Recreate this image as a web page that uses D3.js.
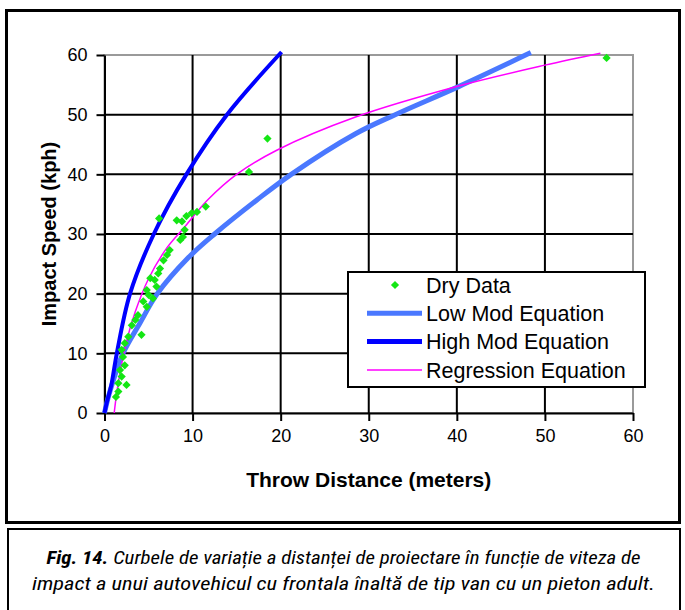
<!DOCTYPE html>
<html>
<head>
<meta charset="utf-8">
<script src="https://cdn.jsdelivr.net/npm/d3@7"></script>
<style>
  body { margin: 0; background: #fff; }
  svg { display: block; }
  text { font-family: "Liberation Sans", Arial, sans-serif; fill: #000; }
</style>
</head>
<body>
<div id="chart"></div>
<script>
// tick labels
var xTicks = [0, 10, 20, 30, 40, 50, 60];
var yTicks = [0, 10, 20, 30, 40, 50, 60];

// Dry Data (throw distance m, impact speed kph)
var dryX = [6.2, 8.2, 8.8, 9.3, 9.9, 10.5, 11.5, 9.1, 8.9, 8.6, 7.4, 7.1, 6.7, 6.3, 6.1, 5.2, 5.7, 5.9, 4.8, 5.0,
            5.5, 4.4, 4.8, 3.8, 3.5, 3.1, 4.2, 2.7, 2.3, 1.95, 2.1, 2.3, 1.76, 1.95, 2.5, 1.57, 1.57, 1.3, 16.4, 18.5, 57];
var dryY = [32.6, 32.3, 32.1, 33.0, 33.5, 33.7, 34.6, 30.7, 29.5, 29.0, 27.3, 26.5, 25.6, 24.2, 23.4, 22.6, 22.3, 21.2, 20.6, 19.8,
            19.2, 18.7, 17.8, 16.4, 15.6, 14.7, 13.1, 12.8, 11.7, 10.6, 9.4, 8.0, 7.2, 6.1, 4.7, 5.0, 3.6, 2.7, 40.4, 46.0, 59.5];

// equation curves, points
var lowModX = [0, 0.4, 0.9, 2.1, 4.0, 6.0, 9.5, 12.5, 17.3, 21.2, 28.5, 33.0, 40.2, 48.4];
var lowModY = [0, 2.5, 5, 10, 15, 20, 26, 30, 35.7, 40, 46.8, 50, 54.7, 60.4];
var highModX = [0, 0.3, 0.75, 1.4, 2.9, 5.6, 9.3, 13.9, 20.1];
var highModY = [0, 2, 4.5, 10, 20, 30, 40, 50, 60.5];
var regX = [1.1, 1.4, 1.8, 2.5, 3.5, 5.0, 7.0, 9.0, 11.7, 15.0, 19.5, 28.5, 40.2, 50.0, 56.3];
var regY = [0, 3.5, 7, 12, 17, 22.5, 27.5, 31, 35.7, 40, 44, 49.6, 54.8, 58.3, 60.3];

var legendNames = ["Dry Data", "Low Mod Equation", "High Mod Equation", "Regression Equation"];
var xTitle = "Throw Distance (meters)";
var yTitle = "Impact Speed (kph)";
var captionBold = "Fig. 14.";
var captionRest1 = " Curbele de variație a distanței de proiectare în funcție de viteza de";
var captionLine2 = "impact a unui autovehicul cu frontala înaltă de tip van cu un pieton adult.";

var W = 685, H = 610;
var plot = {left: 104.5, right: 633, top: 55, bottom: 413};

var svg = d3.select("#chart").append("svg").attr("width", W).attr("height", H);

// outer frame and caption frame
svg.append("rect").attr("x", 6.5).attr("y", 10.5).attr("width", 673).attr("height", 512)
  .style("fill", "#fff").style("stroke", "#000").style("stroke-width", 3);
svg.append("rect").attr("x", 8).attr("y", 529).attr("width", 672).attr("height", 90)
  .style("fill", "#fff").style("stroke", "#000").style("stroke-width", 2);

var x = d3.scaleLinear().domain([0, 60]).range([plot.left, plot.right]);
var y = d3.scaleLinear().domain([0, 60]).range([plot.bottom, plot.top]);

// plot area border (grey) and black gridlines
svg.append("rect").attr("x", plot.left).attr("y", plot.top)
  .attr("width", plot.right - plot.left).attr("height", plot.bottom - plot.top)
  .style("fill", "#fff").style("stroke", "#9a9a9a").style("stroke-width", 2);

var grid = svg.append("g");
grid.selectAll("line.v").data(xTicks.slice(1, -1)).enter().append("line")
  .attr("x1", d => x(d)).attr("x2", d => x(d)).attr("y1", plot.top).attr("y2", plot.bottom)
  .style("stroke", "#000").style("stroke-width", 2);
grid.selectAll("line.h").data(yTicks.slice(1, -1)).enter().append("line")
  .attr("y1", d => y(d)).attr("y2", d => y(d)).attr("x1", plot.left).attr("x2", plot.right)
  .style("stroke", "#000").style("stroke-width", 2);

// axes
var xAxis = d3.axisBottom(x).tickValues(xTicks).tickSize(8).tickSizeOuter(0).tickPadding(8);
var yAxis = d3.axisLeft(y).tickValues(yTicks).tickSize(8).tickSizeOuter(0).tickPadding(9);
var gx = svg.append("g").attr("transform", "translate(0," + plot.bottom + ")").call(xAxis);
var gy = svg.append("g").attr("transform", "translate(" + plot.left + ",0)").call(yAxis);
[gx, gy].forEach(function (g) {
  g.select(".domain").style("stroke", "#000").style("stroke-width", 2);
  g.selectAll(".tick line").style("stroke", "#000").style("stroke-width", 2);
  g.selectAll(".tick text").style("font-size", "18px").style("font-family", "Liberation Sans, Arial, sans-serif");
});

// equation lines
function series(xs, ys) { return xs.map(function (d, i) { return [d, ys[i]]; }); }
var line = d3.line().x(d => x(d[0])).y(d => y(d[1])).curve(d3.curveCatmullRom.alpha(0.5));

svg.append("path").datum(series(lowModX, lowModY)).attr("d", line)
  .style("fill", "none").style("stroke", "#4a78ff").style("stroke-width", 5);
svg.append("path").datum(series(highModX, highModY)).attr("d", line)
  .style("fill", "none").style("stroke", "#0000ff").style("stroke-width", 4);
svg.append("path").datum(series(regX, regY)).attr("d", line)
  .style("fill", "none").style("stroke", "#ff00ff").style("stroke-width", 1.5);

// dry data points: square turned 45 degrees (Excel diamond)
var diamond = d3.symbol().type(d3.symbolSquare).size(34);
svg.append("g").selectAll("path").data(series(dryX, dryY)).enter().append("path")
  .attr("transform", d => "translate(" + x(d[0]) + "," + y(d[1]) + ") rotate(45)")
  .attr("d", diamond).style("fill", "#14e614");

// legend
var lg = svg.append("g");
lg.append("rect").attr("x", 348).attr("y", 272).attr("width", 297).attr("height", 115)
  .style("fill", "#fff").style("stroke", "#000").style("stroke-width", 2);
var rowY = function (i) { return 285 + i * 28.3; };
lg.append("path").attr("transform", "translate(395," + rowY(0) + ") rotate(45)").attr("d", diamond).style("fill", "#14e614");
var legendLines = [{c: "#4a78ff", w: 5}, {c: "#0000ff", w: 5}, {c: "#ff00ff", w: 1.5}];
legendLines.forEach(function (s, i) {
  lg.append("line").attr("x1", 367).attr("x2", 422).attr("y1", rowY(i + 1)).attr("y2", rowY(i + 1))
    .style("stroke", s.c).style("stroke-width", s.w);
});
lg.selectAll("text").data(legendNames).enter().append("text")
  .attr("x", 426).attr("y", (d, i) => rowY(i)).attr("dy", "0.36em")
  .style("font-size", "21.5px").text(d => d);

// axis titles
svg.append("text").attr("x", (plot.left + plot.right) / 2).attr("y", 487)
  .attr("text-anchor", "middle").style("font-size", "21px").style("font-weight", "bold").text(xTitle);
svg.append("text").attr("transform", "translate(56," + (plot.top + plot.bottom) / 2 + ") rotate(-90)")
  .attr("text-anchor", "middle").style("font-size", "20px").style("font-weight", "bold").text(yTitle);

// caption
var capFont = "'Liberation Sans Narrow', 'Roboto Condensed', 'DejaVu Sans Condensed', 'Liberation Sans', sans-serif";
var c1 = svg.append("text").attr("x", 343.5).attr("y", 564).attr("text-anchor", "middle")
  .attr("textLength", 594).attr("lengthAdjust", "spacingAndGlyphs")
  .style("font-family", capFont).style("font-size", "19px").style("font-style", "italic");
c1.append("tspan").style("font-weight", "bold").text(captionBold);
c1.append("tspan").text(captionRest1);
svg.append("text").attr("x", 343.5).attr("y", 590).attr("text-anchor", "middle")
  .attr("textLength", 623).attr("lengthAdjust", "spacingAndGlyphs")
  .style("font-family", capFont).style("font-size", "19px").style("font-style", "italic")
  .text(captionLine2);
</script>
</body>
</html>
